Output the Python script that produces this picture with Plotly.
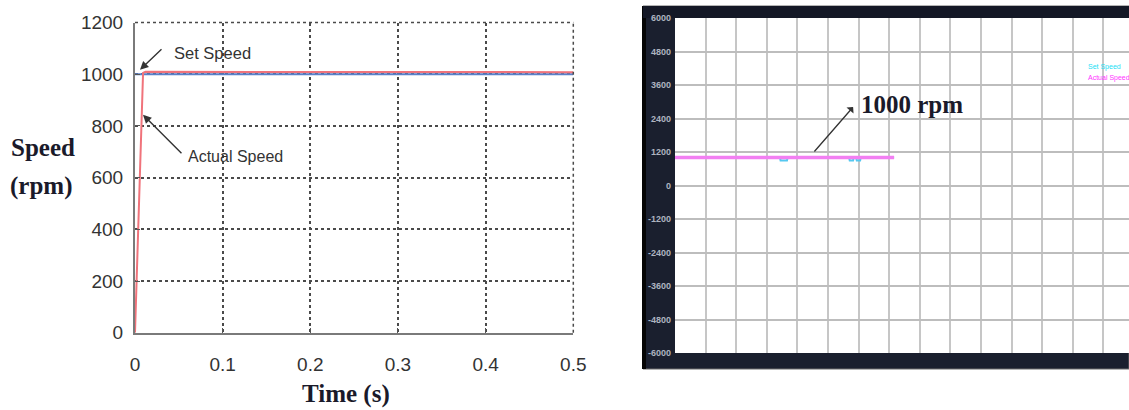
import plotly.graph_objects as go

W, H = 1129, 410

# ---- left panel: simulated speed response ----
sim_time_set = [0.0, 0.5]
sim_speed_set = [1000, 1000]
sim_time_actual = [0.0, 0.002, 0.004, 0.006, 0.008, 0.0092, 0.012, 0.05, 0.1, 0.3, 0.5]
sim_speed_actual = [0, 200, 400, 600, 800, 1005, 1009, 1009, 1008, 1008, 1008]
sim_xticks = [0, 0.1, 0.2, 0.3, 0.4, 0.5]
sim_xticktext = ["0", "0.1", "0.2", "0.3", "0.4", "0.5"]
sim_yticks = [0, 200, 400, 600, 800, 1000, 1200]

# ---- right panel: scope capture (x in screen divisions) ----
scope_div_set = [0, 3.43, 3.45, 3.66, 3.68, 5.69, 5.71, 5.82, 5.84, 5.92, 5.94, 6.05, 6.07, 7.16]
scope_speed_set = [1000, 1000, 900, 900, 1000, 1000, 900, 900, 1000, 1000, 900, 900, 1000, 1000]
scope_div_actual = [0.0, 7.16]
scope_speed_actual = [1000, 1000]
scope_yticks = [6000, 4800, 3600, 2400, 1200, 0, -1200, -2400, -3600, -4800, -6000]
scope_yticktext = ["6000", "4800", "3600", "2400", "1200", "0",
                   "-1200", "-2400", "-3600", "-4800", "-6000"]
scope_xgrid = list(range(0, 15))


def px(x):
    return x / W


def py(y):
    return 1 - y / H


SANS = "Liberation Sans Narrow, Arial Narrow, Liberation Sans, Arial, sans-serif"
SERIF = "Liberation Serif, Times New Roman, serif"

fig = go.Figure()

fig.add_trace(go.Scatter(x=sim_time_set, y=sim_speed_set, mode="lines",
                         line=dict(color="#5a7fc8", width=2), xaxis="x", yaxis="y",
                         showlegend=False, hoverinfo="skip"))
fig.add_trace(go.Scatter(x=sim_time_actual, y=sim_speed_actual, mode="lines",
                         line=dict(color="#f0737b", width=2), xaxis="x", yaxis="y",
                         showlegend=False, hoverinfo="skip"))

fig.add_trace(go.Scatter(x=scope_div_set, y=scope_speed_set, mode="lines",
                         line=dict(color="#55c8f0", width=2), xaxis="x2", yaxis="y2",
                         showlegend=False, hoverinfo="skip"))
fig.add_trace(go.Scatter(x=scope_div_actual, y=scope_speed_actual, mode="lines",
                         line=dict(color="#f27ff2", width=3.5), xaxis="x2", yaxis="y2",
                         showlegend=False, hoverinfo="skip"))

grid_dot = dict(showgrid=True, gridcolor="#4a4a4a", gridwidth=1.5, griddash="dot")

fig.update_layout(
    width=W, height=H,
    margin=dict(l=0, r=0, t=0, b=0, autoexpand=False),
    paper_bgcolor="white",
    plot_bgcolor="rgba(0,0,0,0)",
    xaxis=dict(domain=[px(135), px(573.3)], range=[0, 0.5], tickvals=sim_xticks,
               ticktext=sim_xticktext, ticks="inside", ticklen=5, tickcolor="#555",
               showline=True, linecolor="#7a7a7a", linewidth=2, zeroline=False,
               tickfont=dict(family=SANS, size=19, color="#333"),
               ticklabelstandoff=13, anchor="y", automargin=False, **grid_dot),
    yaxis=dict(domain=[py(332.7), py(22.5)], range=[0, 1200], tickvals=sim_yticks,
               ticks="inside", ticklen=5, tickcolor="#555",
               showline=True, linecolor="#7a7a7a", linewidth=2, zeroline=False,
               tickfont=dict(family=SANS, size=19, color="#333"),
               ticklabelstandoff=6, anchor="x", automargin=False, **grid_dot),
    xaxis2=dict(domain=[px(675), 1.0], range=[0, 454 / 30.6], tickvals=scope_xgrid,
                showticklabels=False, ticks="", showline=False, zeroline=False,
                showgrid=True, gridcolor="#c6c6c6", gridwidth=2, anchor="y2",
                automargin=False),
    yaxis2=dict(domain=[py(353), py(18)], range=[-6000, 6000], tickvals=scope_yticks,
                ticktext=scope_yticktext, ticks="", showline=False, zeroline=False,
                showgrid=True, gridcolor="#bdbdbd", gridwidth=2, anchor="x2",
                tickfont=dict(family=SANS, size=9, color="#aeb3c0", weight="bold"),
                ticklabelstandoff=3, automargin=False),
)

shapes = [
    # scope window frame
    dict(type="rect", xref="paper", yref="paper", x0=px(643), x1=1.0, y0=py(369), y1=py(6),
         fillcolor="#1a1f2e", line=dict(color="#6a6a6a", width=1), layer="below"),
    dict(type="rect", xref="paper", yref="paper", x0=px(642), x1=px(646), y0=py(369), y1=py(6),
         fillcolor="#050505", line=dict(width=0), layer="below"),
    dict(type="rect", xref="paper", yref="paper", x0=px(643), x1=1.0, y0=py(18), y1=py(6),
         fillcolor="#141826", line=dict(width=0), layer="below"),
    # scope screen
    dict(type="rect", xref="x2 domain", yref="y2 domain", x0=0, x1=1, y0=0, y1=1,
         fillcolor="white", line=dict(width=0), layer="below"),
    # simulation plot background
    dict(type="rect", xref="x domain", yref="y domain", x0=0, x1=1, y0=0, y1=1,
         fillcolor="white", line=dict(width=0), layer="below"),
    # dotted box edges (top and right) of the simulation plot
    dict(type="line", xref="x domain", yref="y domain", x0=0, x1=1, y0=1, y1=1,
         line=dict(color="#4a4a4a", width=1.5, dash="dot")),
    dict(type="line", xref="x domain", yref="y domain", x0=1, x1=1, y0=0, y1=1,
         line=dict(color="#4a4a4a", width=1.5, dash="dot")),
]
fig.update_layout(shapes=shapes)

ann = []


def label(text, x, y, family, size, color, weight="normal", xanchor="center"):
    return dict(text=text, x=px(x), y=py(y), xref="paper", yref="paper",
                xanchor=xanchor, yanchor="middle", showarrow=False,
                font=dict(family=family, size=size, color=color, weight=weight))


# axis titles for the simulation plot
ann.append(label("Speed", 43, 147, SERIF, 25, "#1a1a2a", "bold"))
ann.append(label("(rpm)", 41, 186, SERIF, 25, "#1a1a2a", "bold"))
ann.append(label("Time (s)", 346, 394, SERIF, 25, "#1a1a2a", "bold"))

# callouts on the simulation plot
ann.append(label("Set Speed", 212, 53, SANS, 16.5, "#333"))
ann.append(label("Actual Speed", 235, 156, SANS, 16, "#333"))
ann.append(dict(text="", x=0.0057, y=1017, xref="x", yref="y", ax=23, ay=-22,
                showarrow=True, arrowhead=2, arrowsize=1.2, arrowwidth=1.4, arrowcolor="#333"))
ann.append(dict(text="", x=0.0091, y=843, xref="x", yref="y", ax=40, ay=40,
                showarrow=True, arrowhead=2, arrowsize=1.2, arrowwidth=1.4, arrowcolor="#333"))

# scope capture callout and legend
ann.append(label("1000 rpm", 912, 104, SERIF, 25, "#1a1a2a", "bold"))
ann.append(dict(text="", x=5.82, y=2812, xref="x2", yref="y2", ax=-40, ay=46,
                showarrow=True, arrowhead=1, arrowsize=1.2, arrowwidth=1.3, arrowcolor="#333"))
ann.append(label("Set Speed", 1086, 67, SANS, 7, "#22e0f5", xanchor="left"))
ann.append(label("Actual Speed", 1086, 78, SANS, 7, "#ff33ff", xanchor="left"))
fig.update_layout(annotations=ann)

fig.write_html("out.html")
